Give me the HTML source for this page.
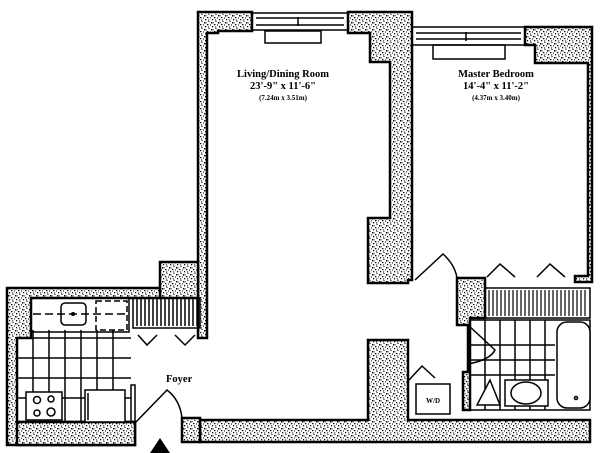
<!DOCTYPE html>
<html><head><meta charset="utf-8"><style>
html,body{margin:0;padding:0;background:#fff}
svg{display:block}
text{font-family:"Liberation Serif",serif;font-weight:bold;fill:#000}
</style></head><body>
<svg width="600" height="453" viewBox="0 0 600 453" xmlns="http://www.w3.org/2000/svg">
<defs>
<pattern id="sp" width="7" height="7" patternUnits="userSpaceOnUse">
<rect width="7" height="7" fill="#fff"/>
<rect x="1" y="1" width="1.5" height="1.5" fill="#000"/>
<rect x="4" y="3" width="1.4" height="1.2" fill="#000"/>
<rect x="2" y="5" width="1.2" height="1.3" fill="#000"/>
<rect x="5.5" y="0" width="1" height="1" fill="#000"/>
<rect x="0" y="3.5" width="1" height="1" fill="#000"/>
<rect x="5" y="5.5" width="1.2" height="1" fill="#000"/>
<rect x="3" y="1.5" width="0.8" height="0.8" fill="#000"/>
</pattern>
</defs>
<g stroke="#000" stroke-width="2.5" fill="url(#sp)">
<path d="M198 12 H252 V31 H218 V33 H207 V338 H198 Z"/>
<path d="M348 12 H412 V280 H408 V283 H368 V218 H390 V62 H370 V33 H348 Z"/>
<path d="M525 27 H592 V282 H575 V276 H588 V63 H535 V45 H525 Z"/>
<path d="M160 262 H198 V298 H160 Z"/>
<path d="M7 288 H160 V298 H31 V338 H17 V422 H135 V445 H7 Z"/>
<path d="M17 422 H135 V445 H17 Z"/>
<path d="M200 420 H368 V340 H408 V420 H590 V442 H200 Z"/>
<path d="M182 418 H200 V442 H182 Z"/>
<path d="M457 278 H485 V318 H470 V410 H463 V372 H468 V325 H457 Z"/>
</g>
<g stroke="#000" fill="none" stroke-width="1.5">
<rect x="252" y="13" width="96" height="17"/><line x1="256" y1="18" x2="344" y2="18"/><line x1="256" y1="25" x2="344" y2="25"/><line x1="298" y1="17" x2="298" y2="26"/>
<rect x="265" y="31" width="56" height="12"/>
<rect x="412" y="27" width="113" height="18"/><line x1="416" y1="33" x2="521" y2="33"/><line x1="416" y1="39" x2="521" y2="39"/><line x1="466" y1="32" x2="466" y2="41"/>
<rect x="433" y="45" width="72" height="14"/>
<path d="M415 280 L443 254 Q455 265 457 278" />
<path d="M487 277 L500 264 L515 277 M537 277 L550 264 L565 277"/>
<rect x="485" y="288" width="105" height="30"/>
<rect x="470" y="320" width="120" height="90"/>
<path d="M470 345 H555 M470 360 H555 M470 375 H555 M485 320 V410 M500 320 V410 M515 320 V410 M530 320 V410 M545 320 V410"/>
<rect x="557" y="322" width="33" height="86" rx="10" fill="#fff"/>
<path d="M477 405 L490 380 L500 405 Z" fill="#fff"/>
<rect x="505" y="380" width="43" height="26" fill="#fff"/>
<ellipse cx="526" cy="393" rx="15" ry="11" fill="#fff"/>
<circle cx="576" cy="398" r="1.5"/>
<path d="M468 325 L495 350 Q490 360 468 364"/>
<rect x="416" y="384" width="34" height="30"/>
<path d="M409 380 L422 366 L435 378"/>
<rect x="31" y="298" width="98" height="34"/>
<rect x="61" y="303" width="25" height="22" rx="4"/>
<circle cx="73" cy="314" r="1.3" fill="#000"/>
<path d="M33 314 H126" stroke-dasharray="8 4"/>
<rect x="96" y="301" width="31" height="29" stroke-dasharray="6 3"/>
<path d="M17 338 H131 M17 358 H131 M17 378 H131 M17 398 H131 M33 330 V422 M49 330 V422 M65 330 V422 M81 330 V422 M97 330 V422 M113 330 V422"/>
<rect x="26" y="392" width="36" height="28" fill="#fff"/>
<circle cx="37" cy="400" r="3.5"/><circle cx="51" cy="399" r="3"/><circle cx="37" cy="413" r="3"/><circle cx="51" cy="412" r="4"/>
<rect x="85" y="390" width="40" height="32" fill="#fff"/>
<line x1="88" y1="393" x2="88" y2="420"/>
<rect x="131" y="385" width="4" height="37"/>
<rect x="133" y="298" width="67" height="30"/>
<path d="M137 298 V326 M141 298 V326 M145 298 V326 M149 298 V326 M153 298 V326 M157 298 V326 M161 298 V326 M165 298 V326 M169 298 V326 M173 298 V326 M177 298 V326 M181 298 V326 M185 298 V326 M189 298 V326 M193 298 V326 M197 298 V326"/>
<path d="M138 335 L147 345 L157 335 M175 335 L185 345 L195 335"/>
<path d="M136 422 L167 390 Q180 400 182 418"/>
</g>
<g stroke="#000" stroke-width="1.2">
<path d="M489 290 V316 M493 290 V316 M497 290 V316 M501 290 V316 M505 290 V316 M509 290 V316 M513 290 V316 M517 290 V316 M521 290 V316 M525 290 V316 M529 290 V316 M533 290 V316 M537 290 V316 M541 290 V316 M545 290 V316 M549 290 V316 M553 290 V316 M557 290 V316 M561 290 V316 M565 290 V316 M569 290 V316 M573 290 V316 M577 290 V316 M581 290 V316 M585 290 V316"/>
</g>
<polygon points="150,453 160,438 170,453" fill="#000"/>
<text x="283" y="77" font-size="10.5" text-anchor="middle">Living/Dining Room</text>
<text x="283" y="89" font-size="10.5" text-anchor="middle">23'-9" x 11'-6"</text>
<text x="283" y="100" font-size="7" text-anchor="middle">(7.24m x 3.51m)</text>
<text x="496" y="77" font-size="10.5" text-anchor="middle">Master Bedroom</text>
<text x="496" y="89" font-size="10.5" text-anchor="middle">14'-4" x 11'-2"</text>
<text x="496" y="100" font-size="7" text-anchor="middle">(4.37m x 3.40m)</text>
<text x="166" y="382" font-size="10.5">Foyer</text>
<text x="433" y="403" font-size="7" text-anchor="middle">W/D</text>
</svg>
</body></html>
